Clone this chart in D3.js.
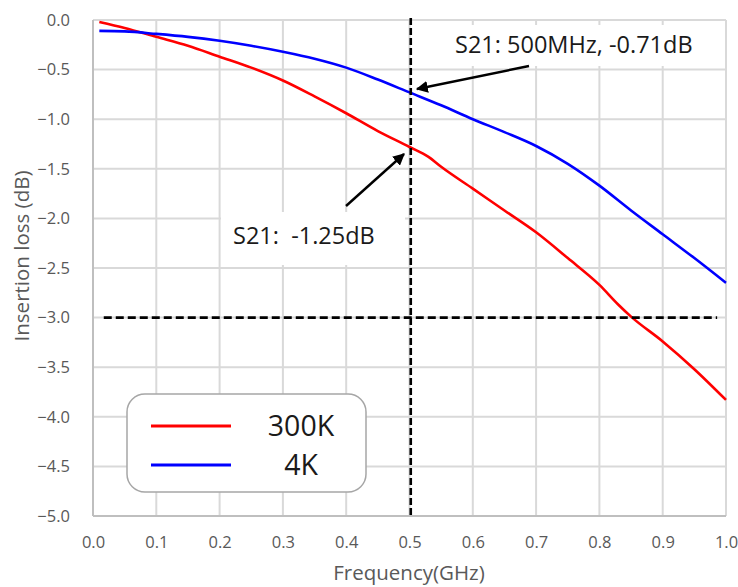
<!DOCTYPE html>
<html><head><meta charset="utf-8">
<script src="https://cdn.jsdelivr.net/npm/d3@7"></script>
<style>body{margin:0;background:#fff}svg{display:block}text{font-family:"Open Sans",sans-serif}</style>
</head><body><svg id="c" width="738" height="587"></svg>
<script>
const freq300 = [0.01,0.05,0.1,0.15,0.2,0.25,0.3,0.35,0.4,0.45,0.5,0.53,0.55,0.6,0.65,0.7,0.75,0.8,0.83,0.85,0.9,0.95,1.0];
const loss300 = [-0.02,-0.08,-0.17,-0.26,-0.37,-0.48,-0.61,-0.77,-0.94,-1.12,-1.28,-1.38,-1.48,-1.70,-1.92,-2.14,-2.40,-2.67,-2.87,-2.99,-3.24,-3.52,-3.83];
const freq4 = [0.01,0.05,0.1,0.15,0.2,0.25,0.3,0.35,0.4,0.45,0.5,0.55,0.6,0.65,0.7,0.75,0.8,0.85,0.9,0.95,1.0];
const loss4 = [-0.11,-0.115,-0.14,-0.17,-0.21,-0.26,-0.32,-0.39,-0.48,-0.60,-0.73,-0.86,-1.0,-1.13,-1.27,-1.45,-1.67,-1.92,-2.16,-2.40,-2.65];
const xTicks = [0,0.1,0.2,0.3,0.4,0.5,0.6,0.7,0.8,0.9,1.0];
const yTicks = [0,-0.5,-1,-1.5,-2,-2.5,-3,-3.5,-4,-4.5,-5];
const seriesNames = ["300K","4K"];
const seriesColors = ["#ff0000","#0000ff"];
const markerFreq = 0.502, thresholdLoss = -3.0, thresholdRange = [0.017,0.986];

const svg = d3.select("#c");
const x = d3.scaleLinear().domain([0,1]).range([93,726]);
const y = d3.scaleLinear().domain([-5,0]).range([516,20]);

// grid
const g = svg.append("g");
g.selectAll(".vg").data(xTicks).join("line")
  .attr("x1",d=>x(d)).attr("x2",d=>x(d)).attr("y1",y(0)).attr("y2",y(-5))
  .attr("stroke","#d9d9d9").attr("stroke-width",2);
g.selectAll(".hg").data(yTicks).join("line")
  .attr("x1",x(0)).attr("x2",x(1)).attr("y1",d=>y(d)).attr("y2",d=>y(d))
  .attr("stroke","#d9d9d9").attr("stroke-width",2);
// axis lines
svg.append("line").attr("x1",x(0)).attr("x2",x(0)).attr("y1",y(0)).attr("y2",y(-5)).attr("stroke","#bfbfbf").attr("stroke-width",2);
svg.append("line").attr("x1",x(0)).attr("x2",x(1)).attr("y1",y(-5)).attr("y2",y(-5)).attr("stroke","#bfbfbf").attr("stroke-width",2);

// axes labels via d3 axes
const xa = svg.append("g").attr("transform",`translate(0,${y(-5)})`)
  .call(d3.axisBottom(x).tickValues(xTicks).tickFormat(d3.format(".1f")).tickSize(0).tickPadding(20));
const ya = svg.append("g").attr("transform",`translate(${x(0)},0)`)
  .call(d3.axisLeft(y).tickValues(yTicks).tickFormat(d3.format(".1f")).tickSize(0).tickPadding(23));
[xa,ya].forEach(a=>{a.select(".domain").remove();a.selectAll("text").attr("fill","#595959").style("font-size","16.5px").style("font-family","'Open Sans',sans-serif");});

svg.append("text").attr("x",409).attr("y",580).attr("text-anchor","middle")
  .attr("fill","#595959").style("font-size","20.5px").text("Frequency(GHz)");
svg.append("text").attr("transform",`translate(29,256) rotate(-90)`).attr("text-anchor","middle")
  .attr("fill","#595959").style("font-size","20.5px").text("Insertion loss (dB)");

// annotation boxes (white)
svg.append("rect").attr("x",440).attr("y",25).attr("width",266).attr("height",41).attr("fill","#fff");
svg.append("rect").attr("x",221).attr("y",212).attr("width",184).attr("height",53).attr("fill","#fff");

// curves
const line = d3.line().x(d=>x(d[0])).y(d=>y(d[1])).curve(d3.curveMonotoneX);
const series = [d3.zip(freq300,loss300), d3.zip(freq4,loss4)];
svg.selectAll(".curve").data(series).join("path")
  .attr("d",line).attr("fill","none").attr("stroke",(d,i)=>seriesColors[i]).attr("stroke-width",2.6);

// dashed lines
svg.append("line").attr("x1",x(markerFreq)).attr("x2",x(markerFreq)).attr("y1",y(0.02)).attr("y2",y(-5))
  .attr("stroke","#000").attr("stroke-width",2.6).attr("stroke-dasharray","7,3");
svg.append("line").attr("x1",x(thresholdRange[0])).attr("x2",x(thresholdRange[1])).attr("y1",y(thresholdLoss)).attr("y2",y(thresholdLoss))
  .attr("stroke","#000").attr("stroke-width",2.6).attr("stroke-dasharray","8,4");

// arrows
const defs = svg.append("defs");
defs.append("marker").attr("id","ah").attr("viewBox","0 0 10 10").attr("refX",9).attr("refY",5)
  .attr("markerWidth",5).attr("markerHeight",5).attr("orient","auto")
  .append("path").attr("d","M0,0 L10,5 L0,10 Z").attr("fill","#000");
svg.append("line").attr("x1",529).attr("y1",66).attr("x2",417).attr("y2",89)
  .attr("stroke","#000").attr("stroke-width",2.4).attr("marker-end","url(#ah)");
svg.append("line").attr("x1",346).attr("y1",206).attr("x2",404).attr("y2",154)
  .attr("stroke","#000").attr("stroke-width",2.4).attr("marker-end","url(#ah)");

svg.append("text").attr("x",455).attr("y",53).attr("fill","#1a1a1a").style("font-size","23.5px").text("S21: 500MHz, -0.71dB");
svg.append("text").attr("x",233).attr("y",244).attr("fill","#1a1a1a").style("font-size","23.5px").attr("xml:space","preserve").style("white-space","pre").text("S21:  -1.25dB");

// legend
const lg = svg.append("g");
lg.append("rect").attr("x",127).attr("y",394).attr("width",239).attr("height",98).attr("rx",18)
  .attr("fill","#fff").attr("stroke","#a6a6a6").attr("stroke-width",1.5);
seriesNames.forEach((n,i)=>{
  const yy = 426 + i*39;
  lg.append("line").attr("x1",151).attr("x2",231).attr("y1",yy).attr("y2",yy).attr("stroke",seriesColors[i]).attr("stroke-width",3);
  lg.append("text").attr("x",301).attr("y",yy+10).attr("text-anchor","middle").attr("fill","#1a1a1a").style("font-size","28.5px").text(n);
});
</script></body></html>
